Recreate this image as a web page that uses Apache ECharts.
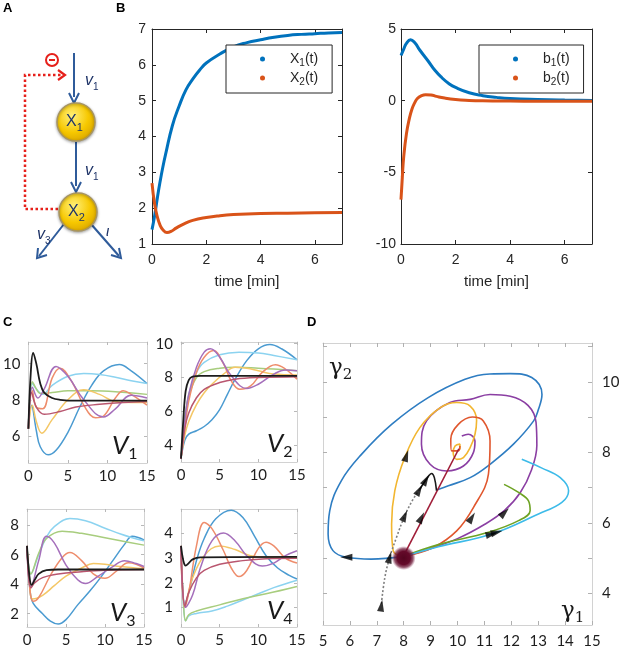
<!DOCTYPE html>
<html><head><meta charset="utf-8">
<script src="https://cdn.jsdelivr.net/npm/echarts@6/dist/echarts.min.js"></script>
<style>html,body{margin:0;padding:0;background:#fff}#c{width:625px;height:649px}</style>
</head><body><div id="c"></div>
<script>
// ---------- Panel B data ----------
const x1Time = [0,0.1,0.2,0.3,0.4,0.5,0.75,1,1.25,1.5,1.75,2,2.5,3,3.5,4,4.5,5,5.5,6,6.5,7];
const x1Vals = [1.4,1.8,2.3,2.75,3.15,3.5,4.3,4.85,5.3,5.6,5.85,6.05,6.3,6.5,6.62,6.7,6.77,6.82,6.85,6.87,6.89,6.9];
const x2Time = [0,0.1,0.2,0.3,0.4,0.55,0.7,0.9,1.2,1.5,2,2.5,3,4,5,6,7];
const x2Vals = [2.7,2.1,1.75,1.52,1.4,1.32,1.35,1.45,1.57,1.66,1.74,1.79,1.82,1.85,1.86,1.87,1.88];
const b1Time = [0,0.1,0.2,0.35,0.5,0.7,1,1.25,1.5,1.75,2,2.5,3,3.5,4,5,6,7];
const b1Vals = [3.15,3.6,4.0,4.25,4.05,3.5,2.75,2.1,1.6,1.2,0.92,0.55,0.35,0.23,0.15,0.08,0.04,0.02];
const b2Time = [0,0.05,0.1,0.2,0.3,0.4,0.5,0.6,0.75,0.9,1.1,1.3,1.6,2,2.5,3,4,5,7];
const b2Vals = [-6.9,-5.3,-3.9,-2.3,-1.3,-0.6,-0.15,0.15,0.35,0.42,0.4,0.3,0.18,0.08,0.02,-0.01,-0.03,-0.04,-0.04];
const bXTicks = [0,2,4,6];

// ---------- Panel C data (time, value) ----------
const v1Black  = [[0,6.4],[0.3,9.5],[0.6,10.6],[1,10.0],[1.5,8.9],[2,8.4],[3,8.1],[4,8.0],[6,7.95],[15,7.95]];
const v1Blue   = [[0,6.4],[0.4,7.7],[1,6.3],[1.5,5.4],[2.5,4.95],[3.5,5.2],[5,6.2],[6.5,7.6],[8,8.8],[9.5,9.6],[11.5,9.95],[13,9.6],[15,8.9]];
const v1Cyan   = [[0,6.4],[0.5,8.9],[1,8.6],[1.8,8.3],[3,8.8],[5,9.3],[7,9.45],[9,9.4],[11,9.25],[13,9.05],[15,8.9]];
const v1Green  = [[0,6.4],[0.5,9.0],[1,8.6],[1.5,8.35],[3,8.4],[5,8.5],[8,8.5],[11,8.45],[15,8.3]];
const v1Purple = [[0,6.4],[0.5,8.7],[1.2,8.1],[2,8.6],[3.5,9.85],[5,9.3],[7,8.0],[9.5,7.05],[11,7.5],[13,8.25],[15,8.1]];
const v1Orange = [[0,6.4],[0.5,8.5],[1,7.6],[1.8,7.5],[3,9.2],[4,9.75],[5.5,9.0],[7,7.7],[8.5,7.0],[9.5,7.1],[11,8.1],[12,8.5],[13,8.3],[15,7.7]];
const v1Yellow = [[0,6.4],[0.5,7.7],[1,6.8],[1.7,6.15],[3,6.9],[5,8.0],[7,8.55],[9,8.3],[11,7.9],[13,7.85],[15,7.85]];
const v1Maroon = [[0,6.4],[0.4,8.4],[1,7.6],[2,7.2],[4,7.35],[6,7.6],[9,7.75],[12,7.85],[15,7.9]];

const v2Black  = [[0,3.2],[0.3,5.5],[0.6,7.2],[1,7.85],[1.5,8.05],[2.5,8.1],[15,8.1]];
const v2Blue   = [[0,3.2],[0.5,4.3],[1,4.65],[2,4.85],[3,5.1],[4,5.5],[5,6.1],[6,7.0],[7,7.9],[8.5,9.0],[10,9.7],[11.5,9.95],[13,9.7],[15,9.05]];
const v2Cyan   = [[0,3.2],[0.5,5.5],[1,7.0],[2,8.3],[3,8.9],[5,9.35],[7.5,9.5],[10,9.45],[12,9.3],[15,9.05]];
const v2Green  = [[0,3.2],[0.5,5.6],[1,6.9],[2,8.0],[3,8.35],[5,8.55],[7,8.6],[10,8.55],[12,8.5],[15,8.4]];
const v2Purple = [[0,3.2],[0.5,5.5],[1,7.0],[2,8.6],[3,9.5],[3.8,9.7],[5,9.2],[6.5,8.1],[8.5,7.35],[10,7.6],[12,8.2],[13.5,8.45],[15,8.4]];
const v2Orange = [[0,3.2],[0.5,5.0],[1,6.6],[2,8.3],[3,9.2],[4.2,9.6],[5.5,8.8],[6.5,7.8],[7.6,7.3],[9,7.5],[10.5,8.3],[12.2,8.75],[13.5,8.5],[15,7.9]];
const v2Yellow = [[0,3.2],[0.5,4.6],[1,5.4],[2,6.4],[3,7.1],[4,7.6],[5.5,8.2],[7,8.6],[8.5,8.55],[10,8.4],[12,8.2],[15,8.15]];
const v2Maroon = [[0,3.2],[0.5,5.0],[1,5.9],[2,6.8],[3,7.3],[5,7.7],[7,7.9],[10,8.0],[15,8.05]];

const v3Black  = [[0,6.6],[0.3,4.6],[0.6,3.95],[1,4.3],[1.5,4.7],[2.5,4.95],[4,5.0],[15,5.0]];
const v3Blue   = [[0,6.6],[0.4,3.5],[0.8,2.7],[2,2.0],[3,1.5],[4,1.3],[5,1.6],[6.5,2.6],[8,3.5],[9.5,4.5],[11,5.6],[12.5,6.7],[13.5,7.25],[15,7.0]];
const v3Cyan   = [[0,6.6],[0.5,4.7],[1.5,6.0],[2.5,7.2],[3.5,7.9],[5.5,8.45],[7.5,8.3],[10,7.8],[12,7.4],[13.5,7.15],[15,6.95]];
const v3Green  = [[0,6.6],[0.5,4.7],[1.5,6.1],[2.5,7.1],[4.5,7.6],[7,7.45],[10,7.15],[12,6.95],[15,6.65]];
const v3Purple = [[0,6.6],[0.5,3.8],[1.5,5.6],[2.5,7.25],[3.5,6.8],[5,5.3],[6.5,4.3],[7.5,4.05],[9,4.5],[11,5.2],[12.5,5.6],[14,5.4],[15,5.2]];
const v3Orange = [[0,6.6],[0.4,3.5],[0.8,2.85],[1.5,3.1],[3,4.6],[4.5,5.8],[5.5,6.15],[7,5.6],[8.5,4.7],[10,4.4],[11.5,4.9],[13,5.45],[14,5.35],[15,5.1]];
const v3Yellow = [[0,6.6],[0.4,3.6],[0.7,3.0],[2,3.25],[3.5,3.9],[5,4.55],[7,5.1],[8.5,5.4],[10,5.35],[12,5.2],[15,5.05]];
const v3Maroon = [[0,6.6],[0.5,3.75],[1,4.1],[2,4.45],[4,4.7],[7,4.85],[10,4.95],[15,5.0]];

const v4Black  = [[0,3.5],[0.3,2.9],[0.6,2.7],[1,2.8],[1.5,2.95],[2.5,3.03],[15,3.05]];
const v4Blue   = [[0,3.5],[0.5,1.15],[1,1.6],[2,2.9],[3,3.8],[4.5,4.6],[6.5,4.95],[8,4.65],[9.5,3.9],[11,3.1],[12.5,2.6],[14,2.3],[15,2.15]];
const v4Orange = [[0,3.5],[0.5,1.0],[1,1.6],[2,3.5],[3,4.45],[4,4.2],[5.5,3.3],[6.5,2.6],[7.5,2.25],[8.5,2.5],[10,3.4],[11,3.65],[12,3.5],[13.5,3.0],[15,2.8]];
const v4Purple = [[0,3.5],[0.6,1.0],[1.5,1.5],[2.5,2.6],[4,3.7],[5.5,4.02],[7,3.7],[8.5,3.1],[10.5,2.68],[12,2.8],[13.5,3.1],[15,3.3]];
const v4Yellow = [[0,3.5],[0.5,1.1],[1.5,2.2],[3,3.1],[5,3.5],[7,3.35],[9,3.1],[11,3.05],[15,3.05]];
const v4Maroon = [[0,3.5],[0.5,1.05],[1,1.6],[2,2.2],[3,2.5],[5,2.75],[8,2.9],[11,2.98],[15,3.0]];
const v4Cyan   = [[0,3.5],[0.3,1.2],[0.6,0.45],[1,0.65],[2,0.75],[4,0.85],[6,1.05],[8,1.3],[10,1.55],[12,1.8],[15,2.1]];
const v4Green  = [[0,3.5],[0.3,1.3],[0.6,0.45],[1,0.7],[2,0.85],[5,1.1],[8,1.35],[11,1.55],[15,1.85]];
const cXTicks = [0,5,10,15];
const v1YTicks = [6,8,10], v2YTicks = [4,6,8,10], v3YTicks = [2,4,6,8], v4YTicks = [1,2,3,4];

// ---------- Panel D data (gamma1, gamma2) ----------
const dBlue   = [[7.98,5.04],[6.8,4.97],[5.87,5.02],[5.37,5.21],[5.19,5.68],[5.25,6.34],[5.68,7.19],[6.43,7.94],[7.55,8.79],[8.91,9.55],[10.28,10.07],[11.2,10.22],[11.96,10.23],[12.76,10.12],[13.14,9.64],[13.01,9.22],[12.83,8.89],[12.08,8.23],[11.21,7.66],[10.47,7.28],[9.66,7.05],[9.22,6.93]];
const dPurple = [[7.98,5.04],[8.85,5.23],[10.0,5.55],[11.0,5.95],[11.75,6.35],[12.33,6.85],[12.75,7.5],[12.95,8.2],[12.92,8.85],[12.62,9.33],[11.96,9.59],[11.21,9.64],[10.47,9.5],[9.72,9.41],[8.85,8.89],[8.66,8.23],[8.98,7.66],[9.6,7.47],[10.22,7.61],[10.59,7.99],[10.65,8.32],[10.4,8.51],[10.16,8.46]];
const dYellow = [[7.98,5.04],[7.61,5.2],[7.55,5.96],[7.67,6.91],[8.04,7.85],[8.6,8.7],[9.35,9.26],[9.97,9.41],[10.47,9.31],[10.71,8.9],[10.65,8.51],[10.47,8.13],[10.22,7.85],[9.97,7.8],[9.84,7.99],[9.91,8.18],[10.09,8.23],[10.09,8.08]];
const dRed    = [[7.98,5.04],[9.1,5.3],[9.97,5.77],[10.59,6.43],[11.15,7.38],[11.21,8.32],[10.96,8.89],[10.55,9.0],[10.03,8.79],[9.75,8.37],[9.78,8.04],[10.03,8.04],[10.09,8.18]];
const dGreen  = [[7.98,5.04],[9.29,5.38],[11.15,5.73],[12.27,6.06],[12.7,6.34],[12.64,6.62],[12.27,6.86],[11.73,7.09]];
const dCyan   = [[7.98,5.04],[9.29,5.32],[11.27,5.68],[13.01,6.25],[13.88,6.58],[14.13,6.91],[13.82,7.28],[13.14,7.55],[12.39,7.8]];
const dMaroon = [[7.98,5.04],[10.05,8.1]];
const dGray   = [[7.17,3.7],[7.3,4.45],[7.48,5.02],[7.73,5.58],[8.04,6.2],[8.35,6.67],[8.6,6.95]];
const dBlack  = [[8.6,6.95],[8.85,7.24],[9.04,7.4],[9.14,7.28],[9.22,6.91]];
const dHub    = [[8.0,5.0]];
const dArrowPts  = [[5.87,5.02],[7.17,3.65],[7.48,5.02],[8.04,6.2],[8.58,6.93],[8.83,7.22],[8.66,6.15],[8.1,7.9],[10.53,6.15],[11.75,6.29],[11.27,5.68],[11.46,5.73]];
const dArrowDirs = [180,82,75,66,60,60,63,72,58,45,15,15];
const dXTicks = [5,6,7,8,9,10,11,12,13,14,15];
const dYTicks = [4,6,8,10];

// ---------- styles ----------
const stB = {line:'#262626', tickColor:'#262626', label:'#262626', font:'Liberation Sans', size:14, tick:4};
const stC = {line:'#d2d2d2', tickColor:'#b8b8b8', label:'#1e1e1e', font:'Lato', size:15, tick:3};
const stD = {line:'#d2d2d2', tickColor:'#b0b0b0', label:'#1e1e1e', font:'Lato', size:15, tick:4};

const grids = [
  {left:152, top:29, width:190, height:215},
  {left:401, top:29, width:191, height:215},
  {left:28, top:342, width:119, height:121},
  {left:181, top:342, width:116, height:120},
  {left:27, top:509, width:117, height:118},
  {left:181, top:509, width:116, height:118},
  {left:323, top:343, width:269, height:282}
];

const xAxes = [], yAxes = [];
function ax(g, pos, min, max, ticks, st, showLabel, margin, tickVals) {
  return {
    gridIndex:g, type:'value', position:pos, min:min, max:max,
    axisLine:{show:true, onZero:false, lineStyle:{color:st.line, width:1}},
    axisTick:{show:true, inside:true, length:st.tick, customValues: tickVals || ticks, lineStyle:{color:st.tickColor}},
    axisLabel:{show:showLabel, customValues:ticks, color:st.label, fontFamily:st.font, fontSize:st.size, margin:margin},
    splitLine:{show:false}
  };
}
// box for each grid: x bottom, x top, y (label side), y (other side)
function box(g, xr, xt, yr, yt, st, opt) {
  const xb = ax(g,'bottom',xr[0],xr[1],xt,st,true,opt.xm);
  if (opt.xname) Object.assign(xb, {name:opt.xname, nameLocation:'middle', nameGap:30,
      nameTextStyle:{color:'#262626', fontFamily:'Liberation Sans', fontSize:15}});
  xAxes.push(xb);
  xAxes.push(ax(g,'top',xr[0],xr[1],xt,st,false,0));
  yAxes.push(ax(g,opt.yLabelRight?'right':'left',yr[0],yr[1],yt,st,true,opt.ym,opt.yTickVals));
  yAxes.push(ax(g,opt.yLabelRight?'left':'right',yr[0],yr[1],yt,st,false,opt.ym,opt.yTickVals));
}
box(0,[0,7],bXTicks,[1,7],[1,2,3,4,5,6,7],stB,{xm:9,ym:6,xname:'time [min]'});
box(1,[0,7],bXTicks,[-10,5],[-10,-5,0,5],stB,{xm:9,ym:5,xname:'time [min]'});
box(2,[0,15],cXTicks,[4.5,11.2],v1YTicks,stC,{xm:6,ym:8});
box(3,[0,15],cXTicks,[3,10.1],v2YTicks,stC,{xm:6,ym:8});
box(4,[0,15],cXTicks,[1.1,9.1],v3YTicks,stC,{xm:6,ym:8});
box(5,[0,15],cXTicks,[0.2,5],v4YTicks,stC,{xm:6,ym:8});
box(6,[5,15],dXTicks,[3.1,11.1],dYTicks,stD,{xm:9,ym:10,yLabelRight:true,yTickVals:[4,5,6,7,8,9,10,11]});

const zip = (t,v) => t.map((x,i)=>[x,v[i]]);
const series = [];
function ln(g, name, data, color, width, extra) {
  series.push(Object.assign({type:'line', name:name, xAxisIndex:2*g, yAxisIndex:2*g, data:data,
    showSymbol:false, smooth:0.4, silent:true, lineStyle:{color:color, width:width}, itemStyle:{color:color}}, extra||{}));
}
// B
ln(0,'X1(t)',zip(x1Time,x1Vals),'#0072bd',3,{smooth:true});
ln(0,'X2(t)',zip(x2Time,x2Vals),'#d95319',3,{smooth:true});
ln(1,'b1(t)',zip(b1Time,b1Vals),'#0072bd',3,{smooth:true});
ln(1,'b2(t)',zip(b2Time,b2Vals),'#d95319',3,{smooth:true});
// C
const cCol = {blue:'#4b9bd1', cyan:'#8cd3f0', green:'#a8cd7e', yellow:'#f4c766', orange:'#ee8d6c', purple:'#a56fbb', maroon:'#b9566f', black:'#1c1c1c'};
const cSets = [
  [v1Blue,v1Cyan,v1Green,v1Yellow,v1Orange,v1Purple,v1Maroon,v1Black],
  [v2Blue,v2Cyan,v2Green,v2Yellow,v2Orange,v2Purple,v2Maroon,v2Black],
  [v3Blue,v3Cyan,v3Green,v3Yellow,v3Orange,v3Purple,v3Maroon,v3Black],
  [v4Blue,v4Cyan,v4Green,v4Yellow,v4Orange,v4Purple,v4Maroon,v4Black]
];
const cOrder = ['blue','cyan','green','yellow','orange','purple','maroon','black'];
cSets.forEach((set,k)=>set.forEach((d,i)=>ln(2+k,'c'+k+i,d,cCol[cOrder[i]],cOrder[i]==='black'?1.8:1.5)));
// D
ln(6,'dBlue',dBlue,'#2e7dc2',1.6);
ln(6,'dPurple',dPurple,'#8b3fa3',1.6);
ln(6,'dYellow',dYellow,'#f2b630',1.6);
ln(6,'dRed',dRed,'#e0572e',1.6);
ln(6,'dGreen',dGreen,'#6ea324',1.6);
ln(6,'dCyan',dCyan,'#3dbbe9',1.6);
ln(6,'dMaroon',dMaroon,'#a01d38',1.6,{smooth:false});
ln(6,'dGray',dGray,'#8a8a8a',1.6,{lineStyle:{color:'#808080',width:1.6,type:[2,2]}});
ln(6,'dBlack',dBlack,'#1a1a1a',1.6);
series.push({type:'scatter', xAxisIndex:12, yAxisIndex:12, silent:true, symbol:'circle', symbolSize:24,
  data:dHub, itemStyle:{opacity:1, color:new echarts.graphic.RadialGradient(0.5,0.5,0.5,[
    {offset:0,color:'#540520'},{offset:0.55,color:'#650a2a'},{offset:0.78,color:'rgba(105,18,50,0.7)'},{offset:1,color:'rgba(150,60,95,0)'}])}, z:5});
series.push({type:'scatter', xAxisIndex:12, yAxisIndex:12, silent:true, symbol:'triangle', symbolSize:[7,12],
  itemStyle:{color:'#000'}, z:6,
  data:dArrowPts.map((p,i)=>({value:p, symbolRotate:dArrowDirs[i]-90}))});

// legend formatting
const legRich = {
  g:{width:20},
  n:{fontSize:14, fontFamily:'Liberation Sans', color:'#262626', lineHeight:16},
  s:{fontSize:10, fontFamily:'Liberation Sans', color:'#262626', verticalAlign:'bottom', lineHeight:18}
};
const legFmt = n => '{g|}{n|' + n[0] + '}{s|' + n[1] + '}{n|' + n.slice(2) + '}';
function legend(left, names){
  return {left:left, top:45, orient:'vertical', data:names, backgroundColor:'#fff', borderColor:'#262626',
    borderWidth:1, padding:[7,14,6,34], itemGap:3, itemWidth:5, itemHeight:5, icon:'circle',
    selectedMode:false, formatter:legFmt, textStyle:{rich:legRich}};
}

// ---------- graphics (panel A diagram, labels) ----------
const navy = '#1f3468', steel = '#2f5b9a', red = '#e6201b';
const gfx = [];
const txt = (x,y,text,font,fill,extra) => gfx.push(Object.assign({type:'text', x:x, y:y, style:Object.assign({text:text, font:font, fill:fill||'#000'}, extra||{})}));
txt(3,2,'A','bold 13px Liberation Sans');
txt(116,2,'B','bold 13px Liberation Sans');
txt(3,316,'C','bold 13px Liberation Sans');
txt(307,316,'D','bold 13px Liberation Sans');
const line = (x1,y1,x2,y2,st) => gfx.push({type:'line', shape:{x1,y1,x2,y2}, style:st});
const pline = (pts,st) => gfx.push({type:'polyline', shape:{points:pts}, style:st});
const arrowSt = {stroke:steel, lineWidth:2};
line(74,53,74,97,arrowSt);
pline([[69,93],[74,103],[79,93]],{stroke:steel,lineWidth:2,fill:null});
line(76,142,76,186,arrowSt);
pline([[71,182],[76,192],[81,182]],{stroke:steel,lineWidth:2,fill:null});
line(64,224,39,256,arrowSt);
pline([[38,248],[37,258],[47,255]],{stroke:steel,lineWidth:2,fill:null});
line(91,224,119,256,arrowSt);
pline([[111,255],[121,258],[119,248]],{stroke:steel,lineWidth:2,fill:null});
pline([[58,209],[25,209],[25,75],[62,75]],{stroke:red,lineWidth:2.5,lineDash:[2.5,2.5],fill:null});
pline([[58,70],[65,75],[58,80]],{stroke:red,lineWidth:2.2,fill:null});
gfx.push({type:'circle', shape:{cx:52,cy:60,r:6}, style:{stroke:red,lineWidth:2,fill:'#fff'}});
line(49,60,55,60,{stroke:red,lineWidth:2});
const ball = (cx,cy) => gfx.push({type:'circle', shape:{cx:cx,cy:cy,r:19}, style:{
  fill:new echarts.graphic.RadialGradient(0.4,0.35,0.75,[{offset:0,color:'#fff07a'},{offset:0.55,color:'#f7c800'},{offset:1,color:'#d29e00'}]),
  stroke:'#a89560', lineWidth:1.5, shadowBlur:3, shadowColor:'rgba(0,0,0,0.35)', shadowOffsetY:1}});
ball(76,122); ball(78,212);
const subRich = (big, small, italic) => ({
  b:{fontSize:big, fontFamily:'Liberation Sans', fontStyle:italic?'italic':'normal', fill:navy, lineHeight:big+4},
  s:{fontSize:small, fontFamily:'Liberation Sans', fill:navy, verticalAlign:'bottom', lineHeight:big+6}
});
const richTxt = (x,y,a,b,big,small,italic,fill,family) => {
  const r = subRich(big,small,italic);
  if (fill) { r.b.fill = fill; r.s.fill = fill; }
  if (family) { r.b.fontFamily = family; r.s.fontFamily = family; }
  gfx.push({type:'text', x:x, y:y, style:{text:'{b|'+a+'}{s|'+b+'}', rich:r}});
};
richTxt(66,111,'X','1',16,11,false);
richTxt(68,201,'X','2',16,11,false);
richTxt(85,70,'v','1',16,10,true);
richTxt(85,160,'v','1',16,10,true);
richTxt(37,224,'v','3',16,10,true);
txt(106,224,'\u03b9','italic 15px Liberation Sans',navy);
// V labels
richTxt(112,430,'V','1',26,16,true,'#1a1a1a','Lato');
richTxt(267,428,'V','2',26,16,true,'#1a1a1a','Lato');
richTxt(110,597,'V','3',26,16,true,'#1a1a1a','Lato');
richTxt(267,595,'V','4',26,16,true,'#1a1a1a','Lato');
// gamma labels
richTxt(329,354,'\u03b3','2',23,15,false,'#1a1a1a','DejaVu Serif');
richTxt(561,597,'\u03b3','1',23,15,false,'#1a1a1a','DejaVu Serif');

const chart = echarts.init(document.getElementById('c'));
chart.setOption({
  animation:false, backgroundColor:'#fff',
  grid:grids, xAxis:xAxes, yAxis:yAxes, series:series,
  legend:[legend(226,['X1(t)','X2(t)']), legend(479,['b1(t)','b2(t)'])],
  graphic:gfx
});
</script></body></html>
